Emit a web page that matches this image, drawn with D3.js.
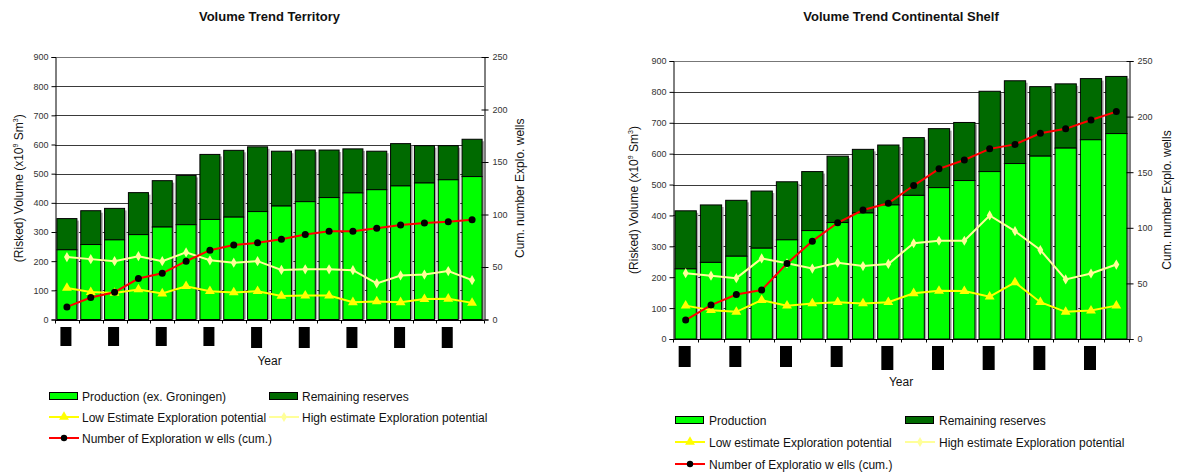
<!DOCTYPE html>
<html>
<head>
<meta charset="utf-8">
<script src="https://cdn.jsdelivr.net/npm/d3@7"></script>
<style>
  body { margin: 0; background: #fff; }
  svg { display: block; }
  text { font-family: Arial, "Liberation Sans", sans-serif; }
</style>
</head>
<body>
<svg id="chart" width="1177" height="473"></svg>
<script>
// Reporting periods (year labels are masked out in the published figure)
const periods = [1, 2, 3, 4, 5, 6, 7, 8, 9, 10, 11, 12, 13, 14, 15, 16, 17, 18];

// Territory: volumes in 10^9 Sm3, wells as cumulative count
const territoryProduction = [239, 257, 273, 291, 317, 325, 343, 351, 370, 389, 404, 418, 434, 445, 458, 468, 479, 490];
const territoryRemaining  = [107, 116, 108, 144, 159, 169, 223, 229, 222, 188, 177, 163, 151, 132, 145, 128, 117, 128];
const territoryLow        = [108, 94, 91, 103, 89, 114, 97, 93, 97, 81, 82, 82, 59, 62, 59, 70, 71, 57];
const territoryHigh       = [214, 207, 200, 217, 200, 230, 203, 195, 200, 170, 172, 172, 169, 124, 151, 154, 166, 135];
const territoryWells      = [12, 21, 26, 39, 44, 55.5, 66, 71, 73, 76.5, 81, 84, 84, 87, 90, 92, 93, 95];

// Continental Shelf
const shelfProduction = [227, 248, 268, 294, 321, 351, 377, 408, 434, 465, 490, 513, 542, 568, 592, 618, 645, 665];
const shelfRemaining  = [188, 186, 181, 185, 188, 191, 215, 206, 194, 187, 191, 188, 260, 268, 225, 208, 198, 185];
const shelfLow        = [108, 93, 88, 126, 108, 115, 119, 115, 119, 148, 156, 155, 137, 183, 119, 88, 92, 108];
const shelfHigh       = [213, 205, 197, 261, 245, 228, 247, 236, 243, 310, 318, 318, 400, 349, 288, 193, 212, 241];
const shelfWells      = [17, 30.5, 40, 44, 68, 88, 104.5, 116, 122, 138, 153, 161, 171, 175, 185, 189, 197, 204.5];

// Axis tick values
const volumeTicks = [0, 100, 200, 300, 400, 500, 600, 700, 800, 900];
const wellTicks = [0, 50, 100, 150, 200, 250];

const C = {
  prod: "#00ff00",
  remain: "#006a00",
  low: "#ffff00",
  high: "#ffff99",
  wells: "#ff0000",
  grid: "#3a3a3a",
  tick: "#333333"
};

const svg = d3.select("#chart");

function drawChart(cfg) {
  const g = svg.append("g");
  const { left, right, top, bottom } = cfg.plot;

  const x = d3.scaleBand().domain(periods).range([left, right]).padding(0);
  const yL = d3.scaleLinear().domain([0, 900]).range([bottom, top]);
  const yR = d3.scaleLinear().domain([0, 250]).range([bottom, top]);
  const bw = x.bandwidth() * 0.84;
  const bx = d => x(d) + (x.bandwidth() - bw) / 2;
  const cx = d => x(d) + x.bandwidth() / 2;

  // Title
  g.append("text").attr("x", (left + right) / 2).attr("y", cfg.titleY)
    .attr("text-anchor", "middle").attr("font-size", 13).attr("font-weight", "bold")
    .attr("fill", "#111").text(cfg.title);

  // Horizontal grid at volume ticks
  g.append("g").selectAll("line").data(volumeTicks.filter(v => v > 0)).join("line")
    .attr("x1", left).attr("x2", right)
    .attr("y1", d => Math.round(yL(d)) + 0.5).attr("y2", d => Math.round(yL(d)) + 0.5)
    .attr("stroke", d => d === 900 ? "#777" : C.grid).attr("stroke-width", 1);

  // Stacked bars
  const rows = periods.map((p, i) => ({ p, prod: cfg.production[i], rem: cfg.remaining[i] }));
  const bars = g.append("g");
  bars.selectAll("rect.shadow").data(rows).join("rect").attr("class", "shadow")
    .attr("x", d => bx(d.p) + 2).attr("width", bw)
    .attr("y", d => yL(d.prod + d.rem) + 2).attr("height", d => yL(0) - yL(d.prod + d.rem) - 2)
    .attr("fill", "#a6a6a6");
  bars.selectAll("rect.rem").data(rows).join("rect").attr("class", "rem")
    .attr("x", d => bx(d.p)).attr("width", bw)
    .attr("y", d => yL(d.prod + d.rem)).attr("height", d => yL(d.prod) - yL(d.prod + d.rem))
    .attr("fill", C.remain).attr("stroke", "#000").attr("stroke-width", 1);
  bars.selectAll("rect.prod").data(rows).join("rect").attr("class", "prod")
    .attr("x", d => bx(d.p)).attr("width", bw)
    .attr("y", d => yL(d.prod)).attr("height", d => yL(0) - yL(d.prod))
    .attr("fill", C.prod).attr("stroke", "#000").attr("stroke-width", 1);

  // Lines
  const lineL = d3.line().x((d, i) => cx(periods[i])).y(d => yL(d));
  const lineR = d3.line().x((d, i) => cx(periods[i])).y(d => yR(d));
  g.append("path").datum(cfg.high).attr("d", lineL).attr("fill", "none")
    .attr("stroke", C.high).attr("stroke-width", 2);
  g.append("path").datum(cfg.low).attr("d", lineL).attr("fill", "none")
    .attr("stroke", C.low).attr("stroke-width", 2);
  g.append("path").datum(cfg.wells).attr("d", lineR).attr("fill", "none")
    .attr("stroke", C.wells).attr("stroke-width", 2);

  const tri = d3.symbol().type(d3.symbolTriangle).size(42);
  const dia = d3.symbol().type(d3.symbolDiamond).size(30);
  g.append("g").selectAll("path").data(cfg.high).join("path")
    .attr("d", dia).attr("transform", (d, i) => `translate(${cx(periods[i])},${yL(d)})`)
    .attr("fill", C.high);
  g.append("g").selectAll("path").data(cfg.low).join("path")
    .attr("d", tri).attr("transform", (d, i) => `translate(${cx(periods[i])},${yL(d)})`)
    .attr("fill", C.low);
  g.append("g").selectAll("circle").data(cfg.wells).join("circle")
    .attr("cx", (d, i) => cx(periods[i])).attr("cy", d => yR(d)).attr("r", 3.5)
    .attr("fill", "#000");

  // Left axis
  const axL = g.append("g").attr("transform", `translate(${left + 0.5},0)`)
    .call(d3.axisLeft(yL).tickValues(volumeTicks).tickSize(4).tickPadding(3));
  axL.select(".domain").attr("stroke", "#000");
  axL.selectAll(".tick line").attr("stroke", "#000");
  axL.selectAll("text").attr("font-size", 9).attr("fill", C.tick)
    .attr("font-family", "Arial, 'Liberation Sans', sans-serif");

  // Right axis (ticks cross the axis line)
  const axR = g.append("g").attr("transform", `translate(${right + 0.5},0)`)
    .call(d3.axisRight(yR).tickValues(wellTicks).tickSize(4).tickPadding(4));
  axR.select(".domain").attr("stroke", "#000");
  axR.selectAll(".tick line").attr("x1", -3).attr("stroke", "#000");
  axR.selectAll("text").attr("font-size", 9).attr("fill", C.tick)
    .attr("font-family", "Arial, 'Liberation Sans', sans-serif");

  // Bottom axis with ticks at period boundaries
  const bY = Math.round(bottom) + 0.5;
  g.append("line").attr("x1", left).attr("x2", right + 0.5).attr("y1", bY).attr("y2", bY)
    .attr("stroke", "#000");
  const bounds = periods.map(p => x(p)).concat([right]);
  g.append("g").selectAll("line").data(bounds).join("line")
    .attr("x1", d => Math.round(d) + 0.5).attr("x2", d => Math.round(d) + 0.5)
    .attr("y1", bY).attr("y2", bY + 3).attr("stroke", "#000");

  // Masked year labels under every other period
  const masked = periods.filter((p, i) => i % 2 === 0);
  g.append("g").selectAll("rect").data(masked).join("rect")
    .attr("x", d => cx(d) - cfg.mask.w / 2 - 1).attr("width", cfg.mask.w)
    .attr("y", cfg.mask.top)
    .attr("height", (d, i) => i < 4 ? cfg.mask.short : cfg.mask.long)
    .attr("fill", "#000");

  // Axis titles
  g.append("text").attr("x", (left + right) / 2).attr("y", cfg.yearY)
    .attr("text-anchor", "middle").attr("font-size", 12).attr("fill", "#111").text("Year");

  const lt = g.append("text")
    .attr("transform", `translate(${cfg.leftTitleX},${(top + bottom) / 2}) rotate(-90)`)
    .attr("text-anchor", "middle").attr("font-size", 12).attr("fill", "#111");
  lt.append("tspan").text("(Risked) Volume (x10");
  lt.append("tspan").attr("font-size", 7).attr("dy", -5).text("9");
  lt.append("tspan").attr("dy", 5).text(" Sm");
  lt.append("tspan").attr("font-size", 7).attr("dy", -5).text("3");
  lt.append("tspan").attr("dy", 5).text(")");

  g.append("text")
    .attr("transform", `translate(${cfg.rightTitleX},${(top + bottom) / 2}) rotate(-90)`)
    .attr("text-anchor", "middle").attr("font-size", 12).attr("fill", "#111")
    .text("Cum. number Explo. wells");

  // Legend
  const L = cfg.legend;
  const items = [
    { kind: "box", fill: C.prod, label: L.labels[0], col: 0, row: 0 },
    { kind: "box", fill: C.remain, label: L.labels[1], col: 1, row: 0 },
    { kind: "line", stroke: C.low, marker: "tri", label: L.labels[2], col: 0, row: 1 },
    { kind: "line", stroke: C.high, marker: "dia", label: L.labels[3], col: 1, row: 1 },
    { kind: "line", stroke: C.wells, marker: "dot", label: L.labels[4], col: 0, row: 2 }
  ];
  const lg = g.append("g");
  items.forEach(it => {
    const x0 = L.cols[it.col], y0 = L.rows[it.row];
    if (it.kind === "box") {
      lg.append("rect").attr("x", x0 + 0.5).attr("y", y0 - 3.5).attr("width", 28).attr("height", 7)
        .attr("fill", it.fill).attr("stroke", "#000");
    } else {
      lg.append("line").attr("x1", x0).attr("x2", x0 + 30).attr("y1", y0).attr("y2", y0)
        .attr("stroke", it.stroke).attr("stroke-width", 2);
      const mx = x0 + 15;
      if (it.marker === "tri") lg.append("path").attr("d", tri).attr("transform", `translate(${mx},${y0})`).attr("fill", C.low);
      if (it.marker === "dia") lg.append("path").attr("d", dia).attr("transform", `translate(${mx},${y0})`).attr("fill", C.high);
      if (it.marker === "dot") lg.append("circle").attr("cx", mx).attr("cy", y0).attr("r", 3.2).attr("fill", "#000");
    }
    lg.append("text").attr("x", x0 + L.textDx).attr("y", y0 + 4.5)
      .attr("font-size", 12).attr("fill", "#111").text(it.label);
  });
}

drawChart({
  title: "Volume Trend Territory",
  titleY: 21,
  plot: { left: 55, right: 484, top: 57, bottom: 319.5 },
  production: territoryProduction, remaining: territoryRemaining,
  low: territoryLow, high: territoryHigh, wells: territoryWells,
  mask: { w: 11, top: 327, short: 19, long: 21 },
  yearY: 365, leftTitleX: 23, rightTitleX: 524,
  legend: {
    cols: [49, 269], rows: [396, 417, 438], textDx: 33,
    labels: ["Production (ex. Groningen)", "Remaining reserves",
             "Low  Estimate Exploration potential", "High estimate Exploration potential",
             "Number of Exploration w ells (cum.)"]
  }
});

drawChart({
  title: "Volume Trend Continental Shelf",
  titleY: 21,
  plot: { left: 673, right: 1129, top: 61, bottom: 339 },
  production: shelfProduction, remaining: shelfRemaining,
  low: shelfLow, high: shelfHigh, wells: shelfWells,
  mask: { w: 12, top: 346, short: 21, long: 24 },
  yearY: 386, leftTitleX: 638, rightTitleX: 1171,
  legend: {
    cols: [675, 905], rows: [420, 442, 464], textDx: 34,
    labels: ["Production", "Remaining reserves",
             "Low  estimate Exploration potential", "High estimate Exploration potential",
             "Number of Exploratio w ells (cum.)"]
  }
});
</script>
</body>
</html>
